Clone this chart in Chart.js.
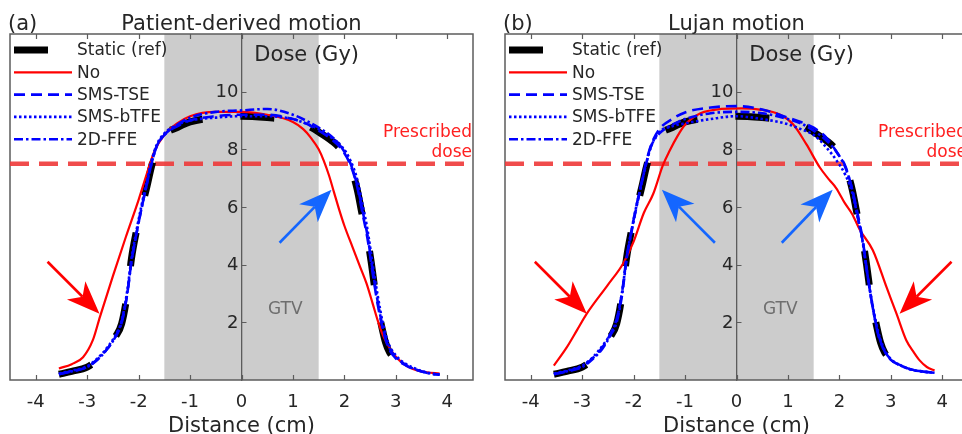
<!DOCTYPE html>
<html>
<head>
<meta charset="utf-8">
<script src="https://cdn.jsdelivr.net/npm/chart.js@4.4.1/dist/chart.umd.min.js"></script>
<style>
  html, body { margin: 0; padding: 0; background: #fff; overflow: hidden; width: 962px; height: 434px; }
  canvas { position: absolute; top: 0; }
  #panel-a { left: 0; }
  #panel-b { left: 495px; }
</style>
</head>
<body>
<canvas id="panel-a" width="481" height="434"></canvas>
<canvas id="panel-b" width="481" height="434"></canvas>
<script>
// axes
const xMin = -4.5, xMax = 4.5, yMin = 0, yMax = 12;
const xTicks = [-4, -3, -2, -1, 0, 1, 2, 3, 4];
const yTicks = [2, 4, 6, 8, 10];
const prescribedDose = 7.5;
const gtvRange = [-1.5, 1.5];

// static reference profile (same in both panels)
const staticX = [-3.55, -3.3, -3.0, -2.8, -2.6, -2.45, -2.33, -2.22, -2.14, -2.05, -1.95, -1.84, -1.75, -1.65, -1.5, -1.25, -1.0, -0.5, 0, 0.5, 1.0, 1.25, 1.5, 1.75, 1.95, 2.12, 2.25, 2.35, 2.43, 2.52, 2.62, 2.72, 2.8, 2.88, 3.0, 3.15, 3.3, 3.42];
const staticY = [0.2, 0.3, 0.45, 0.7, 1.1, 1.5, 1.95, 3.0, 4.2, 5.1, 5.9, 6.7, 7.4, 8.0, 8.5, 8.75, 8.95, 9.1, 9.15, 9.1, 9.0, 8.85, 8.6, 8.3, 7.95, 7.4, 6.6, 5.7, 5.1, 4.1, 2.8, 1.9, 1.3, 0.95, 0.72, 0.55, 0.42, 0.32];

// shared x positions of the blue (gated) profiles
const blueX = [-3.55, -3.3, -3.0, -2.8, -2.6, -2.45, -2.33, -2.22, -2.14, -2.05, -1.95, -1.84, -1.75, -1.65, -1.5, -1.25, -1.0, -0.5, 0, 0.5, 1.0, 1.25, 1.5, 1.75, 1.95, 2.12, 2.25, 2.35, 2.45, 2.55, 2.65, 2.75, 2.85, 3.0, 3.2, 3.4, 3.6, 3.85];

// (a) patient-derived motion
const aNoX = [-3.55, -3.3, -3.08, -2.89, -2.75, -2.5, -2.25, -2.0, -1.85, -1.7, -1.5, -1.25, -1.0, -0.5, 0, 0.5, 1.0, 1.2, 1.35, 1.5, 1.6, 1.7, 1.8, 1.9, 2.0, 2.16, 2.3, 2.43, 2.55, 2.65, 2.75, 2.9, 3.07, 3.25, 3.4, 3.6, 3.85];
const aNoY = [0.4, 0.55, 0.79, 1.38, 2.2, 3.6, 4.95, 6.25, 7.1, 7.9, 8.5, 8.9, 9.15, 9.3, 9.3, 9.2, 8.95, 8.7, 8.4, 8.0, 7.6, 7.1, 6.5, 5.9, 5.35, 4.6, 3.95, 3.35, 2.65, 2.05, 1.55, 1.05, 0.68, 0.45, 0.34, 0.27, 0.22];
const aTseY = [0.2, 0.3, 0.45, 0.72, 1.1, 1.5, 2.0, 3.0, 4.1, 5.0, 5.9, 6.8, 7.5, 8.1, 8.5, 8.8, 9.0, 9.15, 9.2, 9.2, 9.05, 8.9, 8.65, 8.35, 8.0, 7.45, 6.7, 5.8, 4.9, 3.7, 2.6, 1.75, 1.15, 0.75, 0.5, 0.35, 0.25, 0.18];
const aBtfeY = [0.22, 0.32, 0.48, 0.75, 1.15, 1.55, 2.05, 3.1, 4.2, 5.1, 6.0, 6.9, 7.6, 8.15, 8.55, 8.85, 9.0, 9.1, 9.15, 9.15, 9.05, 8.9, 8.7, 8.4, 8.1, 7.6, 6.95, 6.1, 5.2, 4.0, 2.9, 1.95, 1.3, 0.85, 0.55, 0.38, 0.26, 0.18];
const aFfeY = [0.2, 0.3, 0.45, 0.7, 1.1, 1.5, 2.0, 3.0, 4.1, 5.0, 5.9, 6.8, 7.5, 8.1, 8.5, 8.85, 9.1, 9.3, 9.35, 9.4, 9.2, 9.0, 8.75, 8.45, 8.05, 7.5, 6.75, 5.9, 5.0, 3.8, 2.7, 1.8, 1.2, 0.8, 0.52, 0.36, 0.25, 0.18];

// (b) Lujan motion
const bNoX = [-3.55, -3.3, -3.1, -2.91, -2.5, -2.2, -2.0, -1.8, -1.62, -1.43, -1.3, -1.15, -1.0, -0.7, -0.3, 0.1, 0.45, 0.85, 1.1, 1.36, 1.62, 1.8, 1.94, 2.1, 2.25, 2.4, 2.65, 2.92, 3.11, 3.3, 3.45, 3.56, 3.7, 3.85];
const bNoY = [0.5, 1.13, 1.73, 2.3, 3.3, 4.05, 4.8, 5.8, 6.45, 7.45, 7.95, 8.45, 8.85, 9.25, 9.4, 9.42, 9.38, 9.2, 8.87, 8.17, 7.37, 6.95, 6.65, 6.15, 5.75, 5.2, 4.5, 3.2, 2.3, 1.38, 0.95, 0.68, 0.45, 0.33];
const bTseY = [0.2, 0.3, 0.48, 0.75, 1.15, 1.6, 2.1, 3.1, 4.2, 5.1, 6.0, 6.9, 7.6, 8.2, 8.7, 9.05, 9.28, 9.45, 9.5, 9.38, 9.1, 8.95, 8.75, 8.4, 7.9, 7.4, 6.6, 5.8, 4.9, 3.6, 2.5, 1.6, 1.1, 0.7, 0.5, 0.36, 0.3, 0.25];
const bBtfeY = [0.22, 0.32, 0.5, 0.78, 1.2, 1.6, 2.1, 3.1, 4.2, 5.1, 6.0, 6.85, 7.55, 8.15, 8.6, 8.8, 8.9, 9.05, 9.15, 9.05, 8.87, 8.7, 8.5, 8.06, 7.6, 7.1, 6.5, 5.7, 4.8, 3.6, 2.55, 1.7, 1.15, 0.72, 0.5, 0.36, 0.3, 0.25];
const bFfeY = [0.2, 0.3, 0.45, 0.72, 1.1, 1.55, 2.0, 3.0, 4.15, 5.05, 5.95, 6.85, 7.55, 8.15, 8.55, 8.85, 9.05, 9.25, 9.3, 9.25, 9.05, 8.9, 8.65, 8.3, 7.9, 7.35, 6.6, 5.7, 4.85, 3.6, 2.5, 1.65, 1.1, 0.72, 0.5, 0.36, 0.3, 0.25];

// annotation arrows, in data units
const arrowsA = [
  { from: [-3.77, 4.1], to: [-2.76, 2.3], color: "#ff0000" },
  { from: [0.74, 4.76], to: [1.75, 6.6], color: "#1466ff" },
];
const arrowsB = [
  { from: [-3.92, 4.1], to: [-2.91, 2.3], color: "#ff0000" },
  { from: [4.18, 4.1], to: [3.17, 2.3], color: "#ff0000" },
  { from: [-0.42, 4.76], to: [-1.45, 6.6], color: "#1466ff" },
  { from: [0.88, 4.76], to: [1.87, 6.6], color: "#1466ff" },
];

const FONT = "DejaVu Sans";
const INK = "#262626";
Chart.defaults.font.family = FONT;

const pts = (xs, ys) => xs.map((x, i) => ({ x, y: ys[i] }));

function datasets(noX, noY, tseY, btfeY, ffeY) {
  return [
    { label: "Static (ref)", data: pts(staticX, staticY), borderColor: "#000000", borderWidth: 7, borderDash: [34, 38], order: 5 },
    { label: "No", data: pts(noX, noY), borderColor: "#ff0000", borderWidth: 2.2, order: 4 },
    { label: "SMS-TSE", data: pts(blueX, tseY), borderColor: "#0000ff", borderWidth: 2.6, borderDash: [11, 6], order: 3 },
    { label: "SMS-bTFE", data: pts(blueX, btfeY), borderColor: "#0000ff", borderWidth: 2.6, borderDash: [2.5, 2.5], order: 2 },
    { label: "2D-FFE", data: pts(blueX, ffeY), borderColor: "#0000ff", borderWidth: 2.6, borderDash: [9, 3, 2.5, 3], order: 1 },
    {
      label: "Prescribed dose",
      data: [{ x: xMin, y: prescribedDose }, { x: xMax, y: prescribedDose }],
      borderColor: "rgba(238, 56, 56, 0.9)", borderWidth: 4.5, borderDash: [19, 10], order: 9, noLegend: true,
    },
  ];
}

function drawArrow(ctx, x1, y1, x2, y2, color) {
  const ang = Math.atan2(y2 - y1, x2 - x1);
  const headLen = 33, headW = 13, notch = 24;
  ctx.save();
  ctx.strokeStyle = color;
  ctx.fillStyle = color;
  ctx.lineWidth = 2.6;
  ctx.beginPath();
  ctx.moveTo(x1, y1);
  ctx.lineTo(x2 - Math.cos(ang) * notch, y2 - Math.sin(ang) * notch);
  ctx.stroke();
  ctx.translate(x2, y2);
  ctx.rotate(ang);
  ctx.beginPath();
  ctx.moveTo(0, 0);
  ctx.lineTo(-headLen, -headW);
  ctx.lineTo(-notch, 0);
  ctx.lineTo(-headLen, headW);
  ctx.closePath();
  ctx.fill();
  ctx.restore();
}

const panelDecor = {
  id: "panelDecor",
  beforeDraw(chart) {
    const { ctx, chartArea: a, scales: { x } } = chart;
    const l = x.getPixelForValue(gtvRange[0]);
    const r = x.getPixelForValue(gtvRange[1]);
    ctx.save();
    ctx.fillStyle = "#cccccc";
    ctx.fillRect(l, a.top, r - l, a.bottom - a.top);
    ctx.restore();
  },
  beforeDatasetsDraw(chart) {
    const { ctx, chartArea: a, scales: { x, y } } = chart;
    ctx.save();
    ctx.strokeStyle = "#5c5c5c";
    ctx.lineWidth = 1.5;
    ctx.strokeRect(a.left, a.top, a.right - a.left, a.bottom - a.top);
    ctx.lineWidth = 1.2;
    ctx.beginPath();
    xTicks.forEach((v) => {
      const px = Math.round(x.getPixelForValue(v)) + 0.5;
      ctx.moveTo(px, a.bottom);
      ctx.lineTo(px, a.bottom - 5);
      ctx.moveTo(px, a.top);
      ctx.lineTo(px, a.top + 5);
    });
    const x0 = x.getPixelForValue(0);
    y.ticks.forEach((t) => {
      const py = Math.round(y.getPixelForValue(t.value)) + 0.5;
      ctx.moveTo(x0, py);
      ctx.lineTo(x0 + 5, py);
    });
    ctx.stroke();

    // y tick labels sit just left of the centred axis
    ctx.fillStyle = INK;
    ctx.font = `18px "${FONT}"`;
    ctx.textAlign = "right";
    ctx.textBaseline = "middle";
    y.ticks.forEach((t) => {
      ctx.fillText(String(t.value), x0 - 3, y.getPixelForValue(t.value) + 1);
    });
    ctx.restore();
  },
  afterDatasetsDraw(chart, args, opts) {
    const { ctx, chartArea: a, scales: { x, y } } = chart;
    ctx.save();

    opts.arrows.forEach((ar) => {
      drawArrow(ctx, x.getPixelForValue(ar.from[0]), y.getPixelForValue(ar.from[1]),
        x.getPixelForValue(ar.to[0]), y.getPixelForValue(ar.to[1]), ar.color);
    });

    ctx.textBaseline = "alphabetic";
    ctx.fillStyle = INK;
    ctx.font = `21px "${FONT}"`;
    ctx.textAlign = "left";
    ctx.fillText(opts.tag, a.left - 2, 29.5);
    ctx.fillText("Dose (Gy)", x.getPixelForValue(0.25), y.getPixelForValue(11.06));
    ctx.textAlign = "center";
    ctx.fillText(opts.title, (a.left + a.right) / 2, 29.5);

    ctx.font = `17px "${FONT}"`;
    ctx.fillStyle = "#6e6e6e";
    ctx.fillText("GTV", x.getPixelForValue(0.85), y.getPixelForValue(2.28));
    ctx.fillStyle = "#ff2020";
    ctx.textAlign = "right";
    ctx.fillText("Prescribed", a.right - 1, y.getPixelForValue(8.44));
    ctx.fillText("dose", a.right - 1, y.getPixelForValue(7.74));

    // legend, styled from the datasets themselves
    ctx.textAlign = "left";
    ctx.textBaseline = "middle";
    chart.data.datasets.filter((d) => !d.noLegend).forEach((d, i) => {
      const ly = a.top + 16 + i * 22.3;
      ctx.strokeStyle = d.borderColor;
      ctx.lineWidth = d.borderWidth;
      ctx.setLineDash(d.borderDash || []);
      ctx.beginPath();
      ctx.moveTo(a.left + 4, ly);
      ctx.lineTo(a.left + 62, ly);
      ctx.stroke();
      ctx.setLineDash([]);
      ctx.fillStyle = INK;
      ctx.fillText(d.label, a.left + 67, ly + 1);
    });
    ctx.restore();
  },
};

function makePanel(id, sets, tag, title, arrows) {
  return new Chart(document.getElementById(id), {
    type: "line",
    data: { datasets: sets },
    plugins: [panelDecor],
    options: {
      responsive: false,
      animation: false,
      events: [],
      devicePixelRatio: 1,
      layout: { padding: { left: 10, right: 8, top: 34, bottom: 0 } },
      elements: {
        point: { radius: 0 },
        line: { cubicInterpolationMode: "monotone", borderCapStyle: "butt", fill: false },
      },
      plugins: {
        legend: { display: false },
        tooltip: { enabled: false },
        panelDecor: { tag, title, arrows },
      },
      scales: {
        x: {
          type: "linear",
          min: xMin,
          max: xMax,
          afterBuildTicks: (s) => { s.ticks = xTicks.map((v) => ({ value: v })); },
          afterFit: (s) => { s.height = 54; },
          grid: { display: false, drawTicks: false },
          border: { display: false },
          ticks: { color: INK, font: { size: 18 }, padding: 12, maxRotation: 0, autoSkip: false },
          title: { display: true, text: "Distance (cm)", color: INK, font: { size: 21, lineHeight: 1 }, padding: { top: 0, bottom: -3 } },
        },
        y: {
          type: "linear",
          position: { x: 0 },
          min: yMin,
          max: yMax,
          afterBuildTicks: (s) => { s.ticks = yTicks.map((v) => ({ value: v })); },
          grid: { display: false, drawTicks: false },
          border: { display: true, color: "#5c5c5c", width: 1.3 },
          ticks: { display: false },
        },
      },
    },
  });
}

makePanel("panel-a", datasets(aNoX, aNoY, aTseY, aBtfeY, aFfeY), "(a)", "Patient-derived motion", arrowsA);
makePanel("panel-b", datasets(bNoX, bNoY, bTseY, bBtfeY, bFfeY), "(b)", "Lujan motion", arrowsB);
</script>
</body>
</html>
